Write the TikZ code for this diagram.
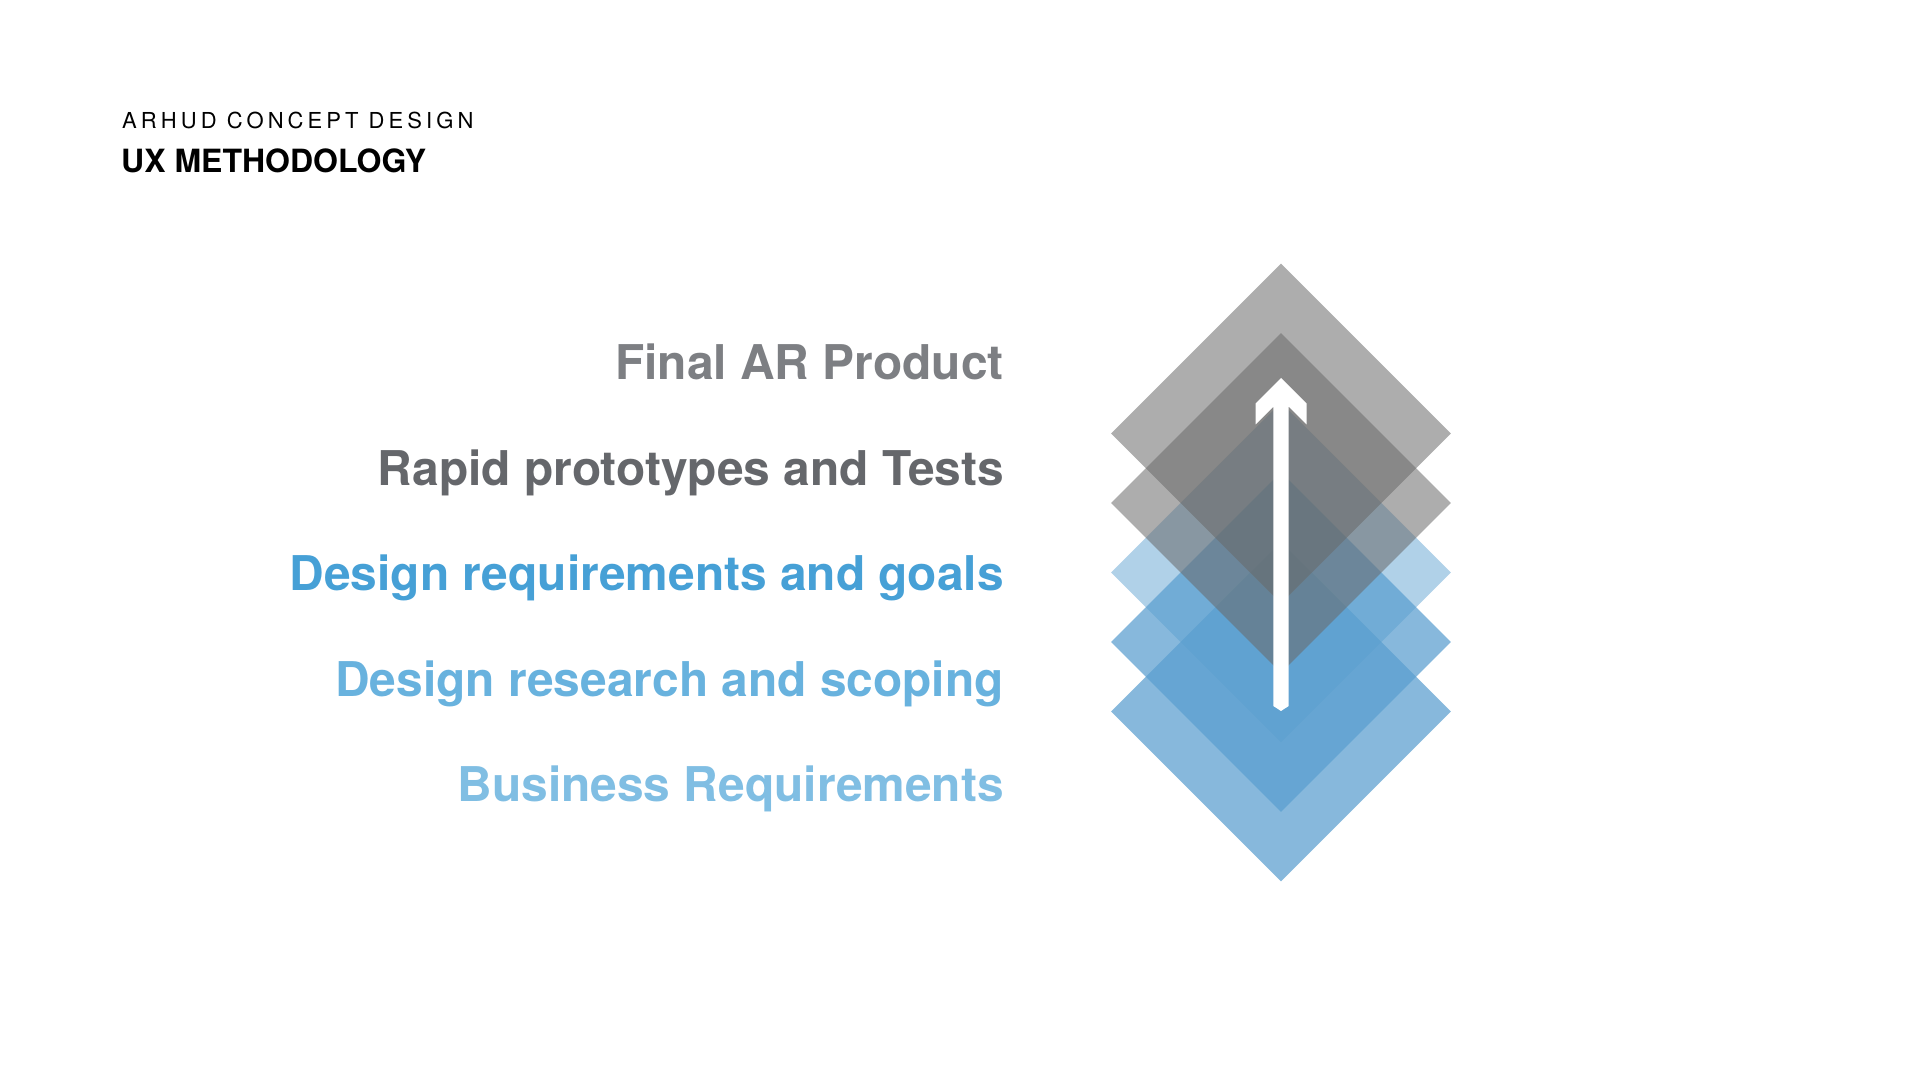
\documentclass[tikz,border=0pt]{standalone}
\usepackage{fontspec}
\setmainfont{TeX Gyre Heros}
\usepackage{xcolor}
\usepackage{tikz}
\usetikzlibrary{positioning}
\usetikzlibrary{shapes.geometric}

\definecolor{layergray}{HTML}{696969}
\definecolor{layerblue}{HTML}{5A9ECF}
\definecolor{finalgray}{HTML}{7D7F83}
\definecolor{protogray}{HTML}{65676B}
\definecolor{goalsblue}{HTML}{46A0D6}
\definecolor{scopeblue}{HTML}{68B2DE}
\definecolor{businessblue}{HTML}{80BEE3}

\begin{document}
\begin{tikzpicture}[x=1pt,y=1pt,node distance=105.5pt,
  layer/.style={diamond,aspect=1,minimum size=340pt,inner sep=0pt,draw=none},
  stage/.style={anchor=base east,inner sep=0pt,font=\fontsize{47.9}{57}\selectfont\bfseries}]
\useasboundingbox (0,0) rectangle (1920,1080);
% header
\node[anchor=base west,inner sep=0pt,font=\fontsize{22}{26}\selectfont\addfontfeatures{LetterSpace=18.5}] (project) at (122,951) {ARHUD CONCEPT DESIGN};
\node[anchor=base west,inner sep=0pt,font=\fontsize{32}{38}\selectfont\bfseries] (topic) at (121,907) {UX METHODOLOGY};
% stacked layers, bottom one first
\foreach \y/\col/\op [count=\i] in {368.5/layerblue/0.73,438/layerblue/0.73,507.5/layerblue/0.48,577/layergray/0.55,646.5/layergray/0.55}
  \node[layer,fill=\col,fill opacity=\op] (layer\i) at (1281,\y) {};
% arrow
\coordinate (arrowtip) at (1281,702);
\coordinate (arrowbase) at (1281,369);
\fill[white] (arrowtip) -- ++(-25.5,-25.5) -- ++(0,-21) -- ++(17.8,17.8) -- ++(0,-299.3)
  -- (arrowbase) -- ++(7.7,5) -- ++(0,299.3) -- ++(17.8,-17.8) -- ++(0,21) -- cycle;
% labels
\node[stage,text=finalgray] (final) at (1004,700) {Final AR Product};
\node[stage,text=protogray] (proto) [below=of final.base east,anchor=base east] {Rapid prototypes and Tests};
\node[stage,text=goalsblue] (goals) [below=of proto.base east,anchor=base east] {Design requirements and goals};
\node[stage,text=scopeblue] (scope) [below=of goals.base east,anchor=base east] {Design research and scoping};
\node[stage,text=businessblue] (business) [below=of scope.base east,anchor=base east] {Business Requirements};
\end{tikzpicture}
\end{document}
